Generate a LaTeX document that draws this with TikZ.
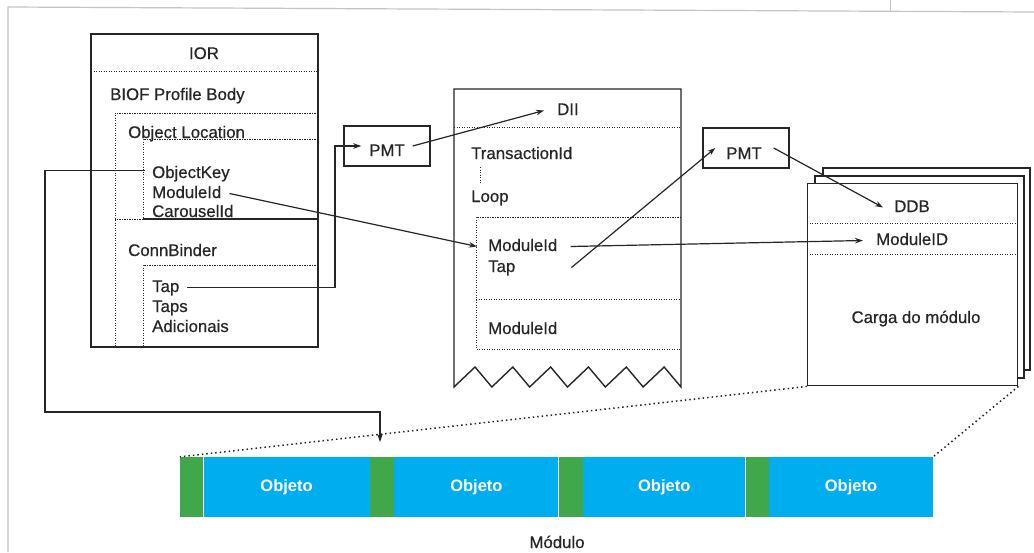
\documentclass[tikz,border=0pt]{standalone}
\usepackage{fontspec}
\setmainfont{Liberation Sans}
\newfontfamily\heavyfont{Liberation Sans}[FakeBold=0.5]
\usetikzlibrary{arrows.meta,calc}
\definecolor{ink}{HTML}{262626}
\definecolor{objblue}{HTML}{00AEEF}
\definecolor{objgreen}{HTML}{40A84A}
\definecolor{framegray}{HTML}{C4C4C4}
\begin{document}
\begin{tikzpicture}[x=1pt,y=-1pt,
  txt/.style={inner sep=0pt, text=ink, text height=12pt, text depth=3pt, font=\heavyfont\fontsize{16.8}{20}\selectfont},
  boxline/.style={draw=ink, line width=1.4pt},
  sepline/.style={draw=ink, line width=1pt, dash pattern=on 1.3pt off 1.2pt},
  link/.style={draw=ink, line width=1.2pt},
  arr/.style={draw=ink, line width=1.2pt, -{Stealth[length=8pt,width=5.5pt]}},
  pmtbox/.style={draw=ink, line width=1.4pt, minimum width=86pt, minimum height=40pt, inner sep=0pt},
  seg/.style={inner sep=0pt, minimum height=60pt, anchor=west, draw=none},
  gseg/.style={seg, fill=objgreen},
  bseg/.style={seg, fill=objblue, text=white, font=\bfseries\fontsize{16.5}{18}\selectfont},
  modline/.style={draw=ink, line width=1.5pt, dash pattern=on 1.5pt off 3pt}
]
\useasboundingbox (0,0) rectangle (1034,552);
\fill[white] (0,0) rectangle (1034,552);
% page frame
\draw[framegray, line width=1.2pt] (8,552) -- (8,7) -- (1034,12);
\draw[framegray, line width=1pt] (890,0) -- (890,11);

% ---------------- IOR ----------------
\draw[boxline] (91,34) rectangle (318,347);
\draw[sepline] (91,71) -- (318,71);
\draw[sepline] (318,113) -- (115,113) -- (115,347);
\draw[sepline] (318,139) -- (143,139) -- (143,219) -- (115,219);
\draw[link] (143,219) -- (318,219);
\draw[sepline] (318,265) -- (143,265) -- (143,347);
\node[txt, anchor=base] (ior) at (204,59) {IOR};
\node[txt, anchor=base west] (biof) at (110,100) {BIOF Profile Body};
\node[txt, anchor=base west] (objloc) at (128,138) {Object Location};
\node[txt, anchor=base west] (okey) at (152,178) {ObjectKey};
\node[txt, anchor=base west] (mid1) at (152,198) {ModuleId};
\node[txt, anchor=base west] (cid) at (152,217) {CarouselId};
\node[txt, anchor=base west] (connb) at (128,256) {ConnBinder};
\node[txt, anchor=base west] (tap1) at (152,292) {Tap};
\node[txt, anchor=base west] (taps) at (152,312) {Taps};
\node[txt, anchor=base west] (adic) at (152,332) {Adicionais};

% ---------------- PMT 1 ----------------
\node[pmtbox] (pmt1box) at (387,146) {};
\node[txt, anchor=base] (pmt1) at (387,156) {PMT};

% ---------------- DII ----------------
\draw[boxline, line join=miter] (681,89) -- (454,89) -- (454,387)
  foreach \k in {0,...,5} { -- ({454+37.83*\k+21},367) -- ({454+37.83*(\k+1)},387) }
  -- cycle;
\draw[sepline] (454,127) -- (681,127);
\draw[sepline] (681,217) -- (476,217) -- (476,349) -- (681,349);
\draw[sepline] (476,299) -- (681,299);
\draw[sepline] (480,167) -- (480,184);
\node[txt, anchor=base west] (dii) at (557,115) {DII};
\node[txt, anchor=base west] (trid) at (471,159) {TransactionId};
\node[txt, anchor=base west] (loop) at (471,202) {Loop};
\node[txt, anchor=base west] (mid2) at (488,251) {ModuleId};
\node[txt, anchor=base west] (tap2) at (488,272) {Tap};
\node[txt, anchor=base west] (mid3) at (488,334) {ModuleId};

% ---------------- PMT 2 ----------------
\node[pmtbox] (pmt2box) at (746,148) {};
\node[txt, anchor=base] (pmt2) at (744,159) {PMT};

% ---------------- DDB stack ----------------
\draw[boxline, fill=white] (823,168) rectangle (1030,370);
\draw[boxline, fill=white] (815,176) rectangle (1024,378);
\node[boxline, fill=white, minimum width=210pt, minimum height=202pt, inner sep=0pt, anchor=north west] (ddbbox) at (807,183) {};
\draw[sepline] (807,223) -- (1017,223);
\draw[sepline] (807,254) -- (1017,254);
\node[txt, anchor=base] (ddb) at (912,212) {DDB};
\node[txt, anchor=base west] (mID) at (876,245) {ModuleID};
\node[txt, anchor=base] (carga) at (916,323) {Carga do módulo};

% ---------------- Module bar ----------------
\node[gseg, minimum width=23pt] (g1) at (180,487) {};
\node[bseg, minimum width=166pt] (o1) at (g1.east) {Objeto};
\node[gseg, minimum width=24pt] (g2) at (o1.east) {};
\node[bseg, minimum width=164pt] (o2) at (g2.east) {Objeto};
\node[gseg, minimum width=24pt] (g3) at (o2.east) {};
\node[bseg, minimum width=162pt] (o3) at (g3.east) {Objeto};
\node[gseg, minimum width=23pt] (g4) at (o3.east) {};
\node[bseg, minimum width=164pt] (o4) at (g4.east) {Objeto};
\node[txt, anchor=base] (modulo) at (557,548) {Módulo};

\draw[modline] (ddbbox.south west) -- (g1.north west);
\draw[modline] (ddbbox.south east) -- (o4.north east);

% ---------------- connectors ----------------
\coordinate (k1) at (45,412);
\coordinate (k2) at (380,442);
\coordinate (k3) at (335,146);
\draw[arr] ([xshift=-7pt,yshift=3pt]okey.west) -| (k1) -| (k2);
\draw[arr] ([xshift=8pt]mid1.east) -- ([xshift=-11pt]mid2.west);
\draw[arr] ([xshift=8pt]tap1.east) -| (k3) -- ([xshift=18pt]pmt1box.west);
\draw[arr] ([xshift=-18pt]pmt1box.east) -- ([xshift=-13pt]dii.west);
\draw[arr] ([xshift=56pt]tap2.east) -- ([xshift=13pt]pmt2box.west);
\draw[arr] ([xshift=-16pt]pmt2box.east) -- ([xshift=-11pt]ddb.west);
\draw[arr] ([xshift=13pt]mid2.east) -- ([xshift=-13pt]mID.west);
\end{tikzpicture}
\end{document}
